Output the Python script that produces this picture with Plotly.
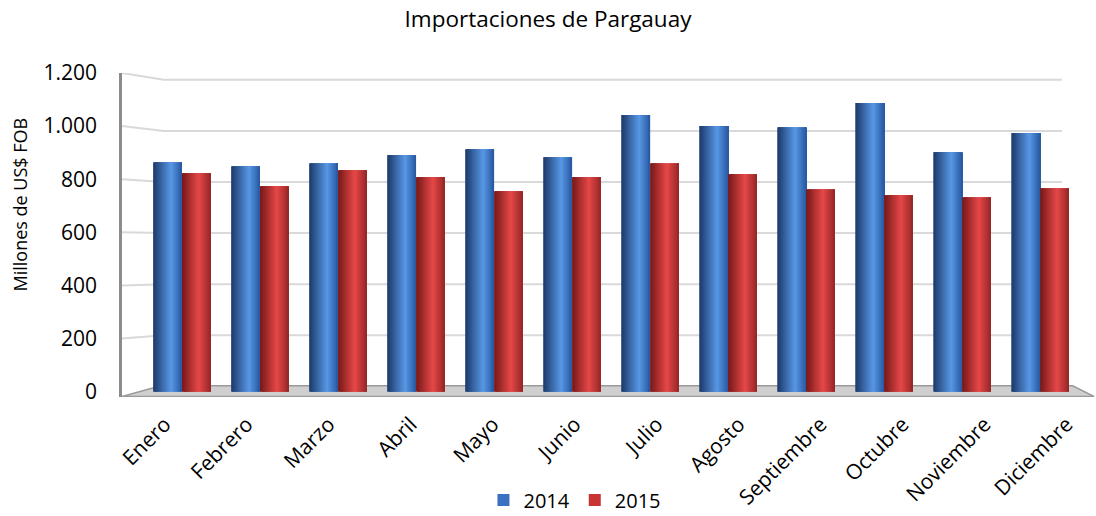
import plotly.graph_objects as go

# Monthly imports, millions of US$ FOB
months = ["Enero", "Febrero", "Marzo", "Abril", "Mayo", "Junio", "Julio",
          "Agosto", "Septiembre", "Octubre", "Noviembre", "Diciembre"]
imports_2014 = [864, 849, 860, 891, 913, 883, 1042, 1000, 996, 1087, 902, 974]
imports_2015 = [823, 774, 834, 808, 755, 808, 860, 819, 762, 740, 732, 766]
series_names = ["2014", "2015"]
y_tickvals = [0, 200, 400, 600, 800, 1000, 1200]
y_ticktext = ["0", "200", "400", "600", "800", "1.000", "1.200"]

FONT = "Open Sans"
BAR_W = 0.37          # width of one bar in category units
N_STRIPES = 26        # vertical slices used to shade each cylinder
# month labels sit on the front edge of the floor, which is a little wider
LABEL_START, LABEL_STEP = -0.22, 1.051

# (left edge, highlight, right edge) colours of each cylinder
shade = {
    "2014": [(0.0, (28, 56, 104)), (0.62, (88, 152, 230)), (1.0, (40, 88, 160))],
    "2015": [(0.0, (118, 24, 24)), (0.58, (230, 72, 72)), (1.0, (150, 38, 38))],
}
legend_colour = {"2014": "#3b70c2", "2015": "#c83434"}


def colour_at(stops, t):
    for (t0, c0), (t1, c1) in zip(stops, stops[1:]):
        if t0 <= t <= t1:
            f = (t - t0) / (t1 - t0) if t1 > t0 else 0
            r, g, b = (round(a + (b_ - a) * f) for a, b_ in zip(c0, c1))
            return f"rgb({r},{g},{b})"
    return "rgb(%d,%d,%d)" % stops[-1][1]


x = list(range(len(months)))
fig = go.Figure()

for k, (name, vals) in enumerate(zip(series_names, [imports_2014, imports_2015])):
    start = -BAR_W if k == 0 else 0.0
    sw = BAR_W / N_STRIPES
    for i in range(N_STRIPES):
        t = (i + 0.5) / N_STRIPES
        last = i == N_STRIPES - 1
        fig.add_trace(go.Bar(
            x=x, y=vals,
            offset=start + i * sw,
            width=sw if last else min(sw * 2.5, BAR_W - i * sw),
            marker=dict(color=colour_at(shade[name], t), line=dict(width=0)),
            showlegend=False, legendgroup=name, hoverinfo="skip",
        ))
    # legend entry
    fig.add_trace(go.Bar(
        x=[None], y=[None], name=name,
        marker=dict(color=legend_colour[name], line=dict(width=0)),
        legendgroup=name, showlegend=True,
    ))

# left wall / back wall gridlines with a little perspective slant
shapes = []
for v in y_tickvals[1:]:
    back = v * 0.962 + 20
    shapes.append(dict(
        type="path", xref="paper", yref="y", layer="below",
        path=f"M 0,{v} L 0.043,{back} L 0.967,{back}",
        line=dict(color="#d9d9d9", width=2),
    ))

# floor of the chart
shapes.append(dict(
    type="path", xref="paper", yref="y", layer="below",
    path="M 0,-18 L 0.040,22 L 0.978,22 L 1.0,-18 Z",
    fillcolor="#cfcfcf", line=dict(color="#9a9a9a", width=1.5),
))

fig.update_layout(
    width=1096, height=516,
    margin=dict(l=122, r=2, t=73, b=119, autoexpand=False),
    paper_bgcolor="white", plot_bgcolor="white",
    barmode="overlay",
    shapes=shapes,
    font=dict(family=FONT, color="#000000"),
    title=dict(text="Importaciones de Pargauay", x=0.5, xanchor="center",
               y=0.962, yanchor="middle", font=dict(size=22.5, family=FONT)),
    xaxis=dict(
        range=[-0.769, 11.69], tickmode="array",
        tickvals=[LABEL_START + LABEL_STEP * i for i in x], ticktext=months,
        tickangle=-45, tickfont=dict(size=21), showgrid=False, zeroline=False,
        showline=False, ticks="", fixedrange=True, ticklabelstandoff=10,
        automargin=False,
    ),
    yaxis=dict(
        range=[-20, 1200], tickmode="array", tickvals=y_tickvals,
        ticktext=y_ticktext, tickfont=dict(size=21), showgrid=False,
        zeroline=False, showline=True, linecolor="#8c8c8c", linewidth=2.5,
        ticks="", ticklabelstandoff=18, automargin=False,
    ),
    annotations=[dict(
        text="Millones de US$ FOB", textangle=-90, showarrow=False,
        xref="paper", yref="paper", x=-0.105, y=0.594,
        xanchor="center", yanchor="middle", font=dict(size=18),
    )],
    legend=dict(orientation="h", x=0.466, xanchor="center", y=-0.318,
                yanchor="middle", font=dict(size=20), itemwidth=30,
                traceorder="normal"),
)

fig.write_html("out.html")
